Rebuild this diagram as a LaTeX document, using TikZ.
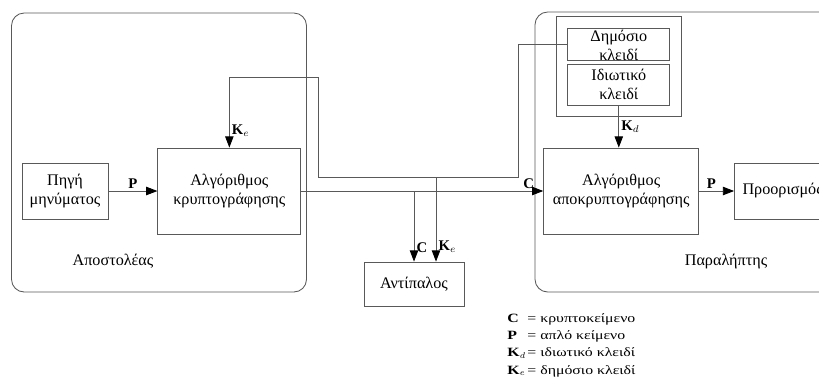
\documentclass[tikz,border=0pt]{standalone}
\usepackage{fontspec}
\setmainfont{Liberation Serif}
\newfontfamily\legendfont{Liberation Serif}[FakeStretch=1.25]
\usepackage{tikz}
\usetikzlibrary{positioning, arrows.meta, fit, calc}

\begin{document}
\begin{tikzpicture}[
    font=\fontsize{11.5}{13.8}\selectfont,
    node distance=1cm and 1.2cm,
    box/.style={
        rectangle,
        draw=black!65,
        line width=0.6pt,
        align=center,
        inner sep=2pt
    },
    group/.style={rectangle, rounded corners=9pt, draw=black!65, line width=0.6pt},
    arrow/.style={draw=black!65, line width=0.6pt, -{Triangle[length=8pt, width=6pt, color=black]}},
    lab/.style={font=\fontsize{10.5}{12}\selectfont\bfseries, inner sep=1.5pt}
]

\useasboundingbox (0,0) rectangle (20.475,-9.575);
\clip (0,0) rectangle (20.475,-9.575);

\node[group, minimum width=7.375cm, minimum height=6.975cm] (sender) at (3.975,-3.8125) {};
\node[group, minimum width=8.2cm, minimum height=7cm] (receiver) at (17.475,-3.8) {};

\node[box, minimum width=2.15cm, minimum height=1.4cm] (source) at (1.625,-4.775) {Πηγή\\μηνύματος};
\node[box, minimum width=3.575cm, minimum height=2.15cm, right=1.225cm of source] (encrypt) {Αλγόριθμος\\κρυπτογράφησης};
\node[box, minimum width=3.875cm, minimum height=2.15cm, right=6.05cm of encrypt] (decrypt) {Αλγόριθμος\\αποκρυπτογράφησης};
\node[box, minimum height=1.4cm, text width=2.4cm, align=left, inner xsep=0.2cm, right=0.875cm of decrypt] (dest) {Προορισμός};

\node[box, minimum width=2.55cm, minimum height=1.025cm, above=1.05cm of decrypt, xshift=-0.06cm] (private) {Ιδιωτικό\\κλειδί};
\node[box, minimum width=2.55cm, minimum height=0.8cm, above=0.075cm of private] (public) {};
\node[inner sep=0pt, align=center] (publictext) at ([yshift=-0.03cm]public) {Δημόσιο\\κλειδί};
\node[rectangle, draw=black!65, line width=0.6pt, fit=(public) (private), inner sep=0.28cm] (keys) {};

\node[box, minimum width=2.5cm, minimum height=1.1cm] (adversary) at (10.35,-7.1) {Αντίπαλος};

\node (sendlabel) at (2.825,-6.525) {Αποστολέας};
\node (recvlabel) at (18.15,-6.55) {Παραλήπτης};

\node[anchor=north west, inner sep=0pt, font=\legendfont\fontsize{9}{12.4}\selectfont] (legend) at (12.68,-7.74) {%
    \begin{tabular}{@{}p{0.5cm}@{}l@{}}
    \textbf{C} & = κρυπτοκείμενο\\
    \textbf{P} & = απλό κείμενο\\
    \textbf{K}$_d$ & = ιδιωτικό κλειδί\\
    \textbf{K}$_e$ & = δημόσιο κλειδί
    \end{tabular}};

\coordinate (kdown) at (12.95,-4.425);
\coordinate (kleft) at (7.95,-4.425);
\coordinate (kup) at (7.95,-1.925);
\coordinate (ctap) at (adversary.north |- encrypt.east);
\coordinate (ktap) at ([xshift=0.55cm]adversary.north |- kdown);

\draw[arrow] (source) -- node[lab, above] {P} (encrypt);
\draw[arrow] (encrypt) -- node[lab, above, pos=0.94] {C} (decrypt);
\draw[arrow] (decrypt) -- node[lab, above, pos=0.35] {P} (dest);
\draw[arrow] (private.south) -- node[lab, right] {K$_d$} (private.south |- decrypt.north);
\draw[arrow] (public.west) -| (kdown) -- (kleft) -- (kup) -| node[lab, right, pos=0.88] {K$_e$} (encrypt.north);
\draw[arrow] (ctap) -- node[lab, right, pos=0.8] {C} (adversary.north);
\draw[arrow] (ktap) -- node[lab, right, pos=0.82] {K$_e$} ([xshift=0.55cm]adversary.north);

\end{tikzpicture}
\end{document}
